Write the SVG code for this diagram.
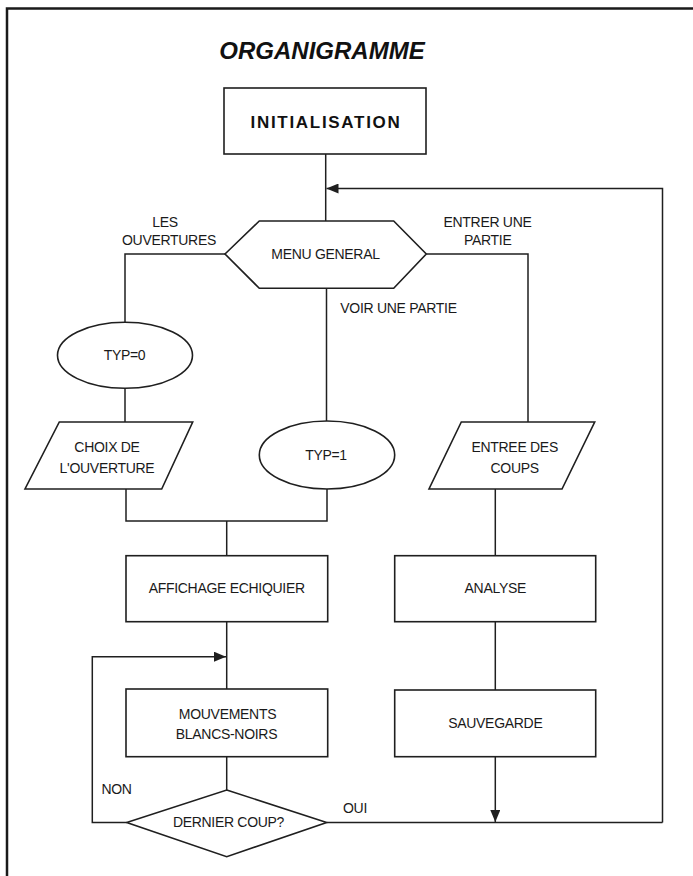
<svg xmlns="http://www.w3.org/2000/svg" width="693" height="876" viewBox="0 0 693 876">
<style>
  .frame { fill: none; stroke: #1a1a1a; stroke-width: 2.5; }
  .shape { fill: #ffffff; stroke: #1f1f1f; stroke-width: 1.6; }
  .conn { fill: none; stroke: #1f1f1f; stroke-width: 1.5; }
  .lbl { font-family: "Liberation Sans", Arial, sans-serif; font-size: 14px; fill: #1a1a1a; text-anchor: middle; letter-spacing: -0.3px; }
  .title { font-family: "Liberation Sans", Arial, sans-serif; font-size: 24px; font-weight: bold; font-style: italic; fill: #111; text-anchor: middle; }
  .init { font-family: "Liberation Sans", Arial, sans-serif; font-size: 17px; font-weight: bold; fill: #111; text-anchor: middle; letter-spacing: 1.7px; }
</style>
<defs>
  <marker id="arr" viewBox="0 0 12 10" refX="12" refY="5" markerWidth="12" markerHeight="10" markerUnits="userSpaceOnUse" orient="auto">
    <path d="M0,0 L12,5 L0,10 Z" fill="#1f1f1f"/>
  </marker>
</defs>
<rect width="693" height="876" fill="#ffffff"/>
<g id="frame">
  <polyline class="frame" points="7,876 7,8.5 693,8.5"/>
</g>
<g id="title">
  <text class="title" x="322" y="59">ORGANIGRAMME</text>
</g>
<g id="connectors">
  <line class="conn" x1="325.7" y1="154" x2="325.7" y2="221"/>
  <polyline class="conn" points="662.5,822.5 662.5,188.5 326.5,188.5" marker-end="url(#arr)"/>
  <polyline class="conn" points="225,254 125,254 125,322"/>
  <polyline class="conn" points="426.3,254 528,254 528,422"/>
  <line class="conn" x1="326.5" y1="288.3" x2="326.5" y2="421"/>
  <line class="conn" x1="125" y1="388.3" x2="125" y2="422"/>
  <polyline class="conn" points="126,489 126,521 327,521 327,489"/>
  <line class="conn" x1="226.7" y1="521" x2="226.7" y2="555.7"/>
  <line class="conn" x1="495.3" y1="489" x2="495.3" y2="555.7"/>
  <line class="conn" x1="226.7" y1="621.7" x2="226.7" y2="689"/>
  <polyline class="conn" points="126.7,822.5 92.3,822.5 92.3,656.7 226,656.7" marker-end="url(#arr)"/>
  <line class="conn" x1="495.3" y1="621.7" x2="495.3" y2="690"/>
  <line class="conn" x1="226.7" y1="756.7" x2="226.7" y2="790"/>
  <line class="conn" x1="326.7" y1="822.5" x2="662.5" y2="822.5"/>
  <line class="conn" x1="495.3" y1="756.7" x2="495.3" y2="822" marker-end="url(#arr)"/>
  <text class="lbl" x="165" y="226.5">LES</text>
  <text class="lbl" x="169" y="245">OUVERTURES</text>
  <text class="lbl" x="487.5" y="226.5">ENTRER UNE</text>
  <text class="lbl" x="487.7" y="245">PARTIE</text>
  <text class="lbl" x="398.5" y="312.7">VOIR UNE PARTIE</text>
  <text class="lbl" x="116.5" y="794">NON</text>
  <text class="lbl" x="355" y="813">OUI</text>
</g>
<g id="initialisation">
  <rect class="shape" x="224" y="88" width="202" height="66"/>
  <text class="init" x="326" y="128">INITIALISATION</text>
</g>
<g id="menu-general">
  <polygon class="shape" points="225,254 259.3,221 393.7,221 426.3,254 393.7,288.3 259.3,288.3"/>
  <text class="lbl" x="325.5" y="258.5">MENU GENERAL</text>
</g>
<g id="typ0">
  <ellipse class="shape" cx="125" cy="355.3" rx="67.5" ry="33"/>
  <text class="lbl" x="124.5" y="360.3">TYP=0</text>
</g>
<g id="choix-ouverture">
  <polygon class="shape" points="59.3,422 192.7,422 161.7,489 25,489"/>
  <text class="lbl" x="107" y="452.3">CHOIX DE</text>
  <text class="lbl" x="107" y="472.7">L'OUVERTURE</text>
</g>
<g id="typ1">
  <ellipse class="shape" cx="327" cy="455" rx="67.7" ry="34"/>
  <text class="lbl" x="326" y="460">TYP=1</text>
</g>
<g id="entree-coups">
  <polygon class="shape" points="461.3,422 594.7,422 562,489 429,489"/>
  <text class="lbl" x="514.7" y="452.3">ENTREE DES</text>
  <text class="lbl" x="514.7" y="472.7">COUPS</text>
</g>
<g id="affichage">
  <rect class="shape" x="126" y="555.7" width="201.7" height="66"/>
  <text class="lbl" x="226.7" y="593.3">AFFICHAGE ECHIQUIER</text>
</g>
<g id="analyse">
  <rect class="shape" x="394.7" y="555.7" width="201" height="66"/>
  <text class="lbl" x="495.3" y="592.8">ANALYSE</text>
</g>
<g id="mouvements">
  <rect class="shape" x="126" y="689" width="201.7" height="67.7"/>
  <text class="lbl" x="227.5" y="719.3">MOUVEMENTS</text>
  <text class="lbl" x="226.5" y="739.3">BLANCS-NOIRS</text>
</g>
<g id="sauvegarde">
  <rect class="shape" x="394.7" y="690" width="201" height="66.7"/>
  <text class="lbl" x="495.3" y="728.3">SAUVEGARDE</text>
</g>
<g id="dernier-coup">
  <polygon class="shape" points="226.7,790 326.7,822.5 226.7,856.7 126.7,822.5"/>
  <text class="lbl" x="228.5" y="827">DERNIER COUP?</text>
</g>
</svg>
